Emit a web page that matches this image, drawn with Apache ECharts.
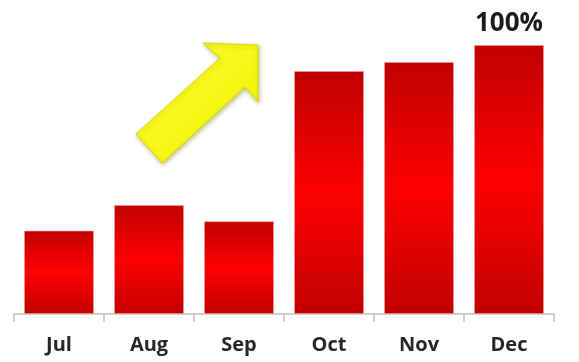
<!DOCTYPE html>
<html>
<head>
<meta charset="utf-8">
<script src="https://cdn.jsdelivr.net/npm/echarts@6/dist/echarts.min.js"></script>
<style>
  html, body { margin: 0; padding: 0; background: #fff; }
  #chart { width: 579px; height: 362px; }
</style>
</head>
<body>
<div id="chart"></div>
<script>
// Monthly share of the December level, in percent
const months = ['Jul', 'Aug', 'Sep', 'Oct', 'Nov', 'Dec'];
const shares = [31, 40.5, 34.5, 90.3, 93.7, 100];
// Only the final month carries a value label
const labelledMonths = ['Dec'];

const chart = echarts.init(document.getElementById('chart'));

const redFill = new echarts.graphic.LinearGradient(0, 0, 0, 1, [
  { offset: 0, color: '#bf0000' },
  { offset: 0.5, color: '#ff0000' },
  { offset: 1, color: '#c00000' }
]);

const barData = shares.map((v, i) => {
  const item = { value: v };
  if (labelledMonths.includes(months[i])) {
    item.label = {
      show: true,
      position: 'top',
      distance: 8,
      formatter: '{c}%',
      fontFamily: 'Open Sans',
      fontWeight: 'bold',
      fontSize: 26,
      color: '#1a1a1a'
    };
  }
  return item;
});

chart.setOption({
  animation: false,
  grid: { left: 14, right: 25, top: 45, bottom: 48 },
  xAxis: {
    type: 'category',
    data: months,
    axisLine: { lineStyle: { color: '#bfbfbf', width: 1.5 } },
    axisTick: { show: true, length: 8, lineStyle: { color: '#bfbfbf', width: 1.5 } },
    axisLabel: {
      margin: 21,
      fontFamily: 'Open Sans',
      fontWeight: 'bold',
      fontSize: 20,
      color: '#262626'
    }
  },
  yAxis: {
    type: 'value',
    min: 0,
    max: 100,
    show: false,
    splitLine: { show: false }
  },
  series: [{
    type: 'bar',
    data: barData,
    barWidth: 70,
    itemStyle: {
      color: redFill,
      borderColor: 'rgba(255,150,150,0.6)',
      borderWidth: 1
    }
  }],
  graphic: [{
    // Upward trend arrow
    type: 'polygon',
    shape: {
      points: [
        [136, 134], [220, 58], [203, 43], [258, 45],
        [258, 102], [245, 87], [162, 163]
      ]
    },
    style: {
      fill: new echarts.graphic.LinearGradient(0, 0, 1, 1, [
        { offset: 0, color: '#ffff33' },
        { offset: 1, color: '#f0f000' }
      ]),
      stroke: '#d8d800',
      lineWidth: 1,
      shadowColor: 'rgba(120,120,0,0.45)',
      shadowBlur: 4,
      shadowOffsetX: 1,
      shadowOffsetY: 2
    }
  }]
});
</script>
</body>
</html>
